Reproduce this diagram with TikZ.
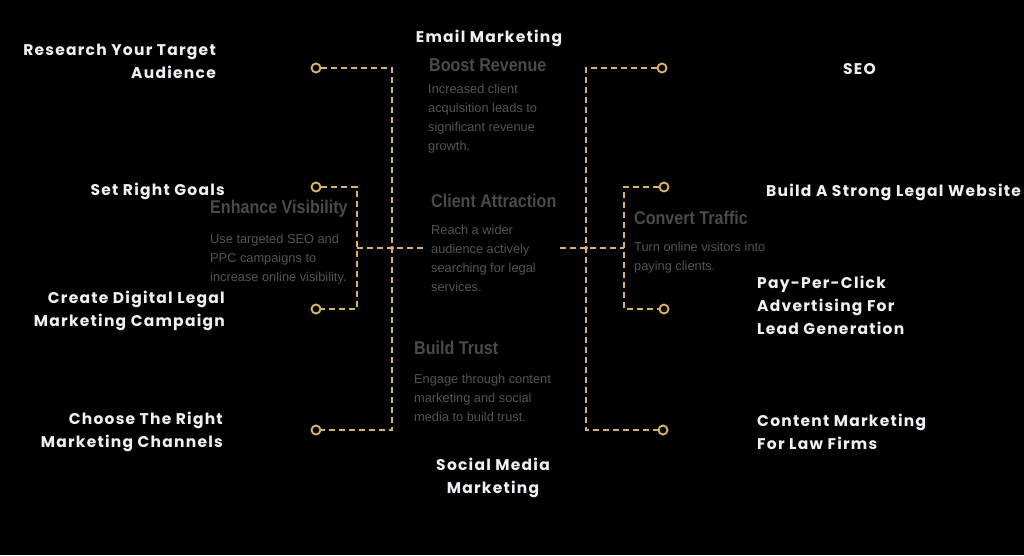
\documentclass[tikz,border=0pt]{standalone}
\usepackage{fontspec}
\newfontfamily\pop{Poppins}[LetterSpace=8]
\newfontfamily\gsans{Liberation Sans}
\newfontfamily\gnarrow{Liberation Sans}[FakeStretch=0.87]
\definecolor{gold}{HTML}{D8B45C}
\definecolor{dimtitle}{HTML}{4A4A4A}
\definecolor{dimbody}{HTML}{545454}
\definecolor{labelwhite}{HTML}{EEF0F4}
\begin{document}
\begin{tikzpicture}[x=1pt,y=-1pt,
  dashline/.style={draw=gold,line width=2pt,dash pattern=on 6pt off 4pt},
  endring/.style={circle,draw=gold,fill=black,line width=1.9pt,minimum size=9pt,inner sep=0pt},
  jdot/.style={circle,fill=gold,minimum size=4pt,inner sep=0pt},
  lbl/.style={text=labelwhite,font=\pop\bfseries\fontsize{15.5}{23}\selectfont,inner sep=0pt,yshift=-2pt},
  gtitle/.style={text=dimtitle,font=\gnarrow\bfseries\fontsize{18.5}{20}\selectfont,inner sep=0pt,anchor=west},
  gbody/.style={text=dimbody,font=\gsans\fontsize{12.8}{19}\selectfont,inner sep=0pt,align=left,anchor=north west}]
\fill[black] (0,0) rectangle (1024,555);
\useasboundingbox (0,0) rectangle (1024,555);

% ring ends
\node[endring] (lt) at (316,68) {};
\node[endring] (lb) at (316,430) {};
\node[endring] (lu) at (316,187) {};
\node[endring] (ld) at (316,309) {};
\node[endring] (rt) at (662,68) {};
\node[endring] (rb) at (663,430) {};
\node[endring] (ru) at (664,187) {};
\node[endring] (rd) at (664,309) {};
% corners
\coordinate (ltc) at (392,68);
\coordinate (lbc) at (392,430);
\coordinate (luc) at (357,187);
\coordinate (ldc) at (357,309);
\coordinate (lmid) at (357,248);
\coordinate (lend) at (423,248);
\coordinate (rtc) at (586,68);
\coordinate (rbc) at (586,430);
\coordinate (ruc) at (624,187);
\coordinate (rdc) at (624,309);
\coordinate (rmid) at (624,248);
\coordinate (rend) at (560,248);

\draw[dashline] (lt) -- (ltc) -- (lbc) -- (lb);
\draw[dashline] (lu) -- (luc) -- (ldc) -- (ld);
\draw[dashline] (lmid) -- (lend);
\draw[dashline] (rt) -- (rtc) -- (rbc) -- (rb);
\draw[dashline] (ru) -- (ruc) -- (rdc) -- (rd);
\draw[dashline] (rend) -- (rmid);
\node[jdot] (lj) at (392,248) {};
\node[jdot] (rj) at (586,248) {};

% white labels
\node[lbl,anchor=east,align=right] (l1) at (216,59.5) {Research Your Target\\Audience};
\node[lbl,anchor=east,align=right] (l2) at (225,189) {Set Right Goals};
\node[lbl,anchor=east,align=right] (l3) at (225,308.5) {Create Digital Legal\\Marketing Campaign};
\node[lbl,anchor=east,align=right] (l4) at (223,429.5) {Choose The Right\\Marketing Channels};
\node[lbl,align=center] (t1) at (489,36) {Email Marketing};
\node[lbl,align=center] (b1) at (493,475.5) {Social Media\\Marketing};
\node[lbl,anchor=west] (r1) at (843,67) {SEO};
\node[lbl,anchor=west] (r2) at (766,190) {Build A Strong Legal Website};
\node[lbl,anchor=west,align=left] (r3) at (757,303) {Pay-Per-Click\\Advertising For\\Lead Generation};
\node[lbl,anchor=west,align=left] (r4) at (757,429.5) {Content Marketing\\For Law Firms};

% gray blocks
\node[gtitle] (g1t) at (429,65) {Boost Revenue};
\node[gbody] (g1b) at (428,84) {Increased client\\acquisition leads to\\significant revenue\\growth.};
\node[gtitle] (g2t) at (210,209) {Enhance Visibility};
\node[gbody] (g2b) at (210,234) {Use targeted SEO and\\PPC campaigns to\\increase online visibility.};
\node[gtitle] (g3t) at (431,201) {Client Attraction};
\node[gbody] (g3b) at (431,225) {Reach a wider\\audience actively\\searching for legal\\services.};
\node[gtitle] (g4t) at (634,218) {Convert Traffic};
\node[gbody] (g4b) at (634,242) {Turn online visitors into\\paying clients.};
\node[gtitle] (g5t) at (414,348) {Build Trust};
\node[gbody] (g5b) at (414,374) {Engage through content\\marketing and social\\media to build trust.};
\end{tikzpicture}
\end{document}
